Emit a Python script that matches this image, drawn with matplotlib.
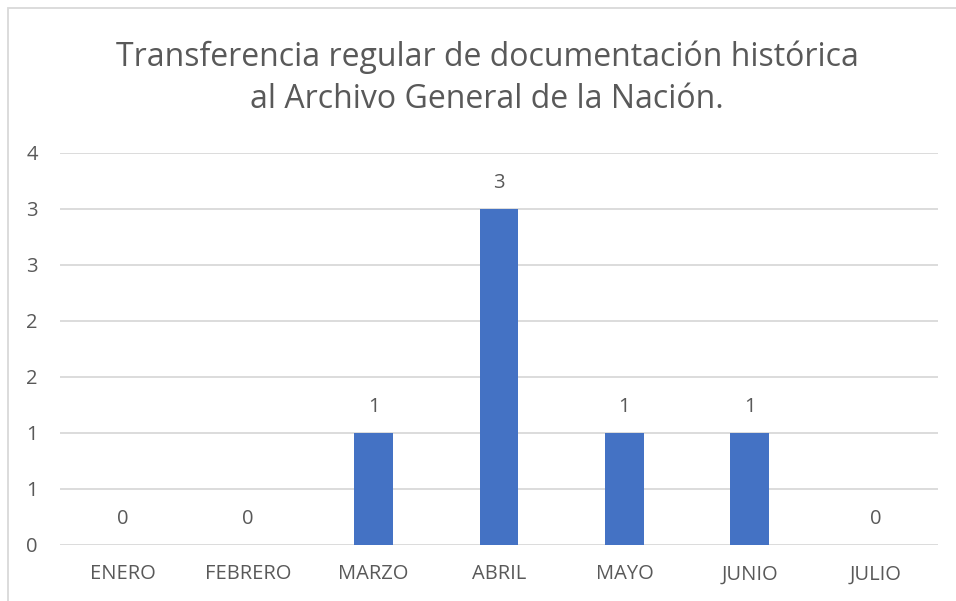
import matplotlib as mpl
import matplotlib.pyplot as plt
from matplotlib.ticker import FuncFormatter, MultipleLocator
import math

mpl.rcParams.update({
    "font.family": ["Open Sans", "DejaVu Sans"],
    "text.color": "#595959",
})

MONTHS = ["ENERO", "FEBRERO", "MARZO", "ABRIL", "MAYO", "JUNIO", "JULIO"]
VALUES = [0, 0, 1, 3, 1, 1, 0]
TITLE = "Transferencia regular de documentación histórica\nal Archivo General de la Nación."

TEXT = "#595959"
GRID = "#D9D9D9"
BAR = "#4472C4"


def excel_round(v, _pos):
    # Excel "0" number format rounds half away from zero
    return str(int(math.floor(v + 0.5)))


def main():
    W, H = 956, 601
    fig = plt.figure(figsize=(W / 100, H / 100), dpi=100)
    ax = fig.add_axes([60 / W, (H - 545) / H, (938 - 60) / W, (545 - 153) / H])

    x = range(len(MONTHS))
    bars = ax.bar(x, VALUES, width=0.31, color=BAR, zorder=3)
    for rect, v in zip(bars, VALUES):
        ax.annotate(str(v), (rect.get_x() + rect.get_width() / 2, v),
                    xytext=(0, 18.5), textcoords="offset points",
                    ha="center", va="center", fontsize=14.5, color=TEXT)

    ax.set_xlim(-0.5, len(MONTHS) - 0.5)
    ax.set_ylim(0, 3.5)
    ax.yaxis.set_major_locator(MultipleLocator(0.5))
    ax.yaxis.set_major_formatter(FuncFormatter(excel_round))
    ax.set_xticks(list(x))
    ax.set_xticklabels(MONTHS)
    ax.tick_params(axis="both", length=0, labelsize=14.5, labelcolor=TEXT)
    ax.tick_params(axis="x", pad=14)
    ax.tick_params(axis="y", pad=16)
    ax.grid(axis="y", color=GRID, linewidth=1.3, zorder=0)
    for s in ax.spines.values():
        s.set_visible(False)

    fig.text(487 / W, 1 - 78 / H, TITLE, ha="center", va="center",
             fontsize=23, color=TEXT, linespacing=1.35)

    # chart area border
    fig.add_artist(plt.Rectangle((8 / W, -0.05), 1.1, 1 - 8 / H + 0.05,
                                 transform=fig.transFigure, fill=False,
                                 edgecolor=GRID, linewidth=1.3))

    fig.savefig("out.png", dpi=100)


if __name__ == "__main__":
    main()
